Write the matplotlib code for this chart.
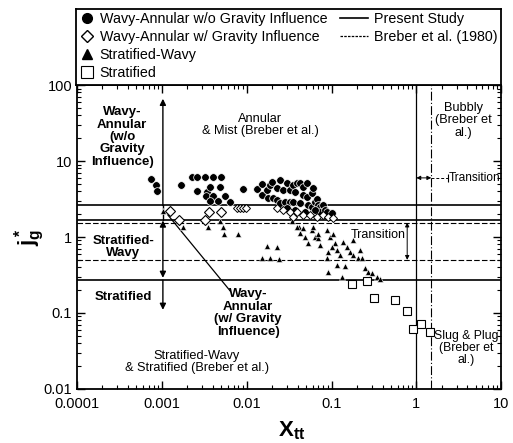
import matplotlib
matplotlib.use('Agg')
import matplotlib.pyplot as plt
from matplotlib.lines import Line2D
import numpy as np

plt.rcParams['font.family'] = ['Liberation Sans', 'DejaVu Sans']
plt.rcParams['mathtext.fontset'] = 'custom'
plt.rcParams['mathtext.rm'] = 'Liberation Sans'
plt.rcParams['mathtext.it'] = 'Liberation Sans:italic'
plt.rcParams['mathtext.bf'] = 'Liberation Sans:bold'

# ---- data (X_tt, j_g*) ----
circ_pts = [(0.00075, 5.8), (0.00086, 4.8), (0.00088, 4.0), (0.0017, 4.8),
            (0.0023, 6.2), (0.0026, 6.2), (0.0032, 6.2), (0.0040, 6.2), (0.0050, 6.2),
            (0.0026, 4.0), (0.0034, 3.9), (0.0037, 4.55), (0.0049, 4.55),
            (0.0033, 3.46), (0.0040, 3.46), (0.0056, 3.46),
            (0.0037, 2.98), (0.0046, 2.98), (0.0064, 2.89), (0.0091, 4.28), (0.0133, 4.28),
            (0.0152, 4.98), (0.0152, 3.57), (0.0174, 4.15), (0.018, 3.26), (0.0189, 4.83),
            (0.020, 5.29), (0.0205, 3.26), (0.0228, 4.41), (0.0228, 3.07), (0.0248, 5.62),
            (0.0248, 2.80), (0.0269, 4.15), (0.0284, 2.89), (0.0299, 5.13), (0.0325, 4.15),
            (0.0325, 2.89), (0.0352, 4.83), (0.0352, 2.89), (0.0372, 3.91), (0.0393, 5.13),
            (0.0427, 5.13), (0.0427, 2.80), (0.0462, 4.55), (0.0462, 3.57), (0.0516, 5.13),
            (0.0516, 3.36), (0.053, 2.64), (0.059, 3.79), (0.059, 2.48), (0.0607, 4.41),
            (0.0641, 2.89), (0.0676, 3.2), (0.0695, 2.64), (0.0734, 2.48), (0.0734, 2.13),
            (0.0796, 2.64), (0.0841, 2.26), (0.0887, 2.13), (0.1016, 2.07),
            (0.030, 2.41), (0.037, 2.26), (0.049, 2.13), (0.064, 2.26)]

dia_pts = [(0.00125, 2.2), (0.0016, 1.67), (0.0032, 1.67), (0.0036, 2.13), (0.0050, 2.13),
           (0.0077, 2.41), (0.0084, 2.41), (0.0091, 2.41), (0.0098, 2.41),
           (0.0228, 2.41), (0.0269, 2.26), (0.0325, 2.13), (0.0352, 1.83), (0.0393, 2.13),
           (0.0462, 1.95), (0.056, 1.95), (0.0676, 1.83), (0.0796, 1.95), (0.0912, 1.83),
           (0.1045, 1.78)]

tri_pts = [(0.00103, 2.2), (0.00178, 1.35), (0.0035, 1.35), (0.00485, 1.62), (0.00527, 1.35),
           (0.0054, 1.09), (0.0079, 1.09), (0.0174, 0.762), (0.0228, 0.739), (0.0152, 0.529),
           (0.0189, 0.529), (0.024, 0.513),
           (0.034, 1.62), (0.041, 1.35), (0.0427, 1.13), (0.0489, 1.0), (0.053, 0.834),
           (0.059, 1.24), (0.0641, 1.0), (0.0695, 0.97), (0.0734, 0.785), (0.0887, 1.24),
           (0.0962, 1.0), (0.110, 0.834), (0.1164, 0.675), (0.126, 0.58), (0.137, 0.86),
           (0.1528, 0.739), (0.1656, 0.635), (0.1798, 0.58), (0.206, 0.529), (0.2297, 0.529),
           (0.0912, 0.346), (0.1164, 0.428), (0.1334, 0.298), (0.1445, 0.415), (0.249, 0.391),
           (0.27, 0.346), (0.301, 0.336), (0.345, 0.298), (0.374, 0.280), (0.217, 0.675),
           (0.18, 0.913), (0.1016, 0.739), (0.0912, 0.635), (0.0887, 0.529),
           (0.039, 1.35), (0.046, 1.32), (0.061, 1.35), (0.0695, 1.1), (0.1045, 1.09)]

sq_pts = [(0.175, 0.241), (0.263, 0.264), (0.318, 0.157), (0.562, 0.148),
          (0.78, 0.106), (0.916, 0.0615), (1.14, 0.0716), (1.455, 0.0562)]

# transition boundaries
present_jg = [2.6, 1.65, 0.27]
breber_jg = [1.55, 0.5]
present_xtt = 1.0
breber_xtt = 1.5

x_ticks = [1e-4, 1e-3, 1e-2, 1e-1, 1, 10]
x_tick_labels = ['0.0001', '0.001', '0.01', '0.1', '1', '10']
y_ticks = [0.01, 0.1, 1, 10, 100]
y_tick_labels = ['0.01', '0.1', '1', '10', '100']

circ_x, circ_y = map(np.array, zip(*circ_pts))
dia_x, dia_y = map(np.array, zip(*dia_pts))
tri_x, tri_y = map(np.array, zip(*tri_pts))
sq_x, sq_y = map(np.array, zip(*sq_pts))

fig = plt.figure(figsize=(5.13, 4.43), dpi=100)
ax = fig.add_axes([0.150, 0.122, 0.827, 0.686])
ax.set_xscale('log')
ax.set_yscale('log')
ax.set_xlim(1e-4, 10)
ax.set_ylim(0.01, 100)

# boundaries
for v in present_jg:
    ax.axhline(v, color='k', lw=1.2, zorder=1)
for v in breber_jg:
    ax.axhline(v, color='k', lw=0.8, ls=(0, (5, 2)), zorder=1)
ax.axvline(present_xtt, color='k', lw=0.9, zorder=1)
ax.axvline(breber_xtt, color='k', lw=0.8, ls=(0, (8, 2, 1, 2)), zorder=1)

# data
ax.plot(tri_x, tri_y, '^', ms=5, mfc='k', mec='white', mew=0.4, ls='none', zorder=3)
ax.plot(circ_x, circ_y, 'o', ms=5.5, mfc='k', mec='white', mew=0.5, ls='none', zorder=4)
big = dia_x < 0.006
ax.plot(dia_x[big], dia_y[big], 'D', ms=5.5, mfc='white', mec='k', mew=0.8, ls='none', zorder=5)
ax.plot(dia_x[~big], dia_y[~big], 'D', ms=3.8, mfc='white', mec='k', mew=0.7, ls='none', zorder=5)
ax.plot(sq_x, sq_y, 's', ms=5.6, mfc='white', mec='k', mew=0.8, ls='none', zorder=5)

# regime arrows at X_tt = 0.001
xa = 0.00103
aprops = dict(arrowstyle='-|>', color='k', lw=1.0, mutation_scale=9, shrinkA=0, shrinkB=0)
ax.annotate('', xy=(xa, 66), xytext=(xa, 2.6), arrowprops=aprops)
ax.plot([xa, xa], [1.65, 2.6], color='k', lw=1.0)
ax.annotate('', xy=(xa, 0.29), xytext=(xa, 1.65),
            arrowprops=dict(aprops, arrowstyle='<|-|>'))
ax.annotate('', xy=(xa, 0.11), xytext=(xa, 0.27), arrowprops=aprops)

# pointer to w/ gravity region
ax.plot([0.00118, 0.0064], [1.95, 0.195], color='k', lw=0.9)

# transition arrows
ax.annotate('', xy=(0.78, 0.5), xytext=(0.78, 1.55),
            arrowprops=dict(arrowstyle='<|-|>', color='k', lw=0.7, mutation_scale=6,
                            shrinkA=0, shrinkB=0))
ax.annotate('', xy=(1.0, 6.0), xytext=(1.5, 6.0),
            arrowprops=dict(arrowstyle='<|-|>', color='k', lw=0.7, mutation_scale=6,
                            shrinkA=0, shrinkB=0))
ax.plot([1.5, 2.38], [6.0, 6.0], color='k', lw=0.7, ls=(0, (3, 2)))
ax.plot([2.38], [6.0], marker='|', ms=6, color='k', mew=0.8)

# region labels
bold = dict(fontsize=9.5, fontweight='bold', ha='center', va='center', linespacing=1.05)
norm = dict(fontsize=9.2, ha='center', va='center', linespacing=1.05)
ax.text(0.00034, 20.7, 'Wavy-\nAnnular\n(w/o\nGravity\nInfluence)', **bold)
ax.text(0.00035, 0.74, 'Stratified-\nWavy', **bold)
ax.text(0.00035, 0.163, 'Stratified', **bold)
ax.text(0.0104, 0.1, 'Wavy-\nAnnular\n(w/ Gravity\nInfluence)', **bold)
ax.text(0.0144, 29.8, 'Annular\n& Mist (Breber et al.)', **norm)
ax.text(0.0026, 0.0226, 'Stratified-Wavy\n& Stratified (Breber et al.)', **norm)
ax.text(3.56, 34.6, 'Bubbly\n(Breber et\nal.)', **norm)
ax.text(3.85, 0.0346, 'Slug & Plug\n(Breber et\nal.)', **dict(norm, fontsize=8.8))
ax.text(0.74, 1.06, 'Transition', fontsize=9, ha='right', va='center')
ax.text(2.42, 6.0, 'Transition', fontsize=8.6, ha='left', va='center')

# axes styling
ax.set_xticks(x_ticks)
ax.set_xticklabels(x_tick_labels)
ax.set_yticks(y_ticks)
ax.set_yticklabels(y_tick_labels)
ax.tick_params(which='both', direction='in', top=True, right=True, labelsize=10.5)
ax.tick_params(which='major', length=6, width=1)
ax.tick_params(which='minor', length=3, width=0.8)
ax.tick_params(axis='x', pad=6)
for s in ax.spines.values():
    s.set_linewidth(1.3)
ax.set_xlabel(r'$\mathbf{X_{tt}}$', fontsize=16)
ax.xaxis.set_label_coords(0.505, -0.10)
ax.set_ylabel(r'$\mathbf{j_g^*}$', fontsize=16)
ax.yaxis.set_label_coords(-0.07, 0.5)

# legend box above the plot
lax = fig.add_axes([0.148, 0.808, 0.829, 0.172])
lax.set_xticks([])
lax.set_yticks([])
for s in lax.spines.values():
    s.set_linewidth(1.3)
mk = [Line2D([], [], marker='o', ls='none', mfc='k', mec='k', ms=7),
      Line2D([], [], marker='D', ls='none', mfc='white', mec='k', ms=6),
      Line2D([], [], marker='^', ls='none', mfc='k', mec='k', ms=7),
      Line2D([], [], marker='s', ls='none', mfc='white', mec='k', ms=8, mew=0.8)]
mk_labels = ['Wavy-Annular w/o Gravity Influence', 'Wavy-Annular w/ Gravity Influence',
             'Stratified-Wavy', 'Stratified']
ln = [Line2D([], [], color='k', lw=1.2),
      Line2D([], [], color='k', lw=0.9, ls=(0, (2, 1)))]
ln_labels = ['Present Study', 'Breber et al. (1980)']
leg1 = lax.legend(mk, mk_labels, loc='upper left', bbox_to_anchor=(0, 1), frameon=False,
                  fontsize=10.3, borderaxespad=0, borderpad=0.25, handlelength=1.0,
                  handletextpad=0.4, labelspacing=0.27)
lax.add_artist(leg1)
lax.legend(ln, ln_labels, loc='upper right', bbox_to_anchor=(1, 1), frameon=False,
           fontsize=10.3, borderaxespad=0, borderpad=0.25, handlelength=2.0,
           handletextpad=0.4, labelspacing=0.27)

fig.savefig('out.png', dpi=100)
